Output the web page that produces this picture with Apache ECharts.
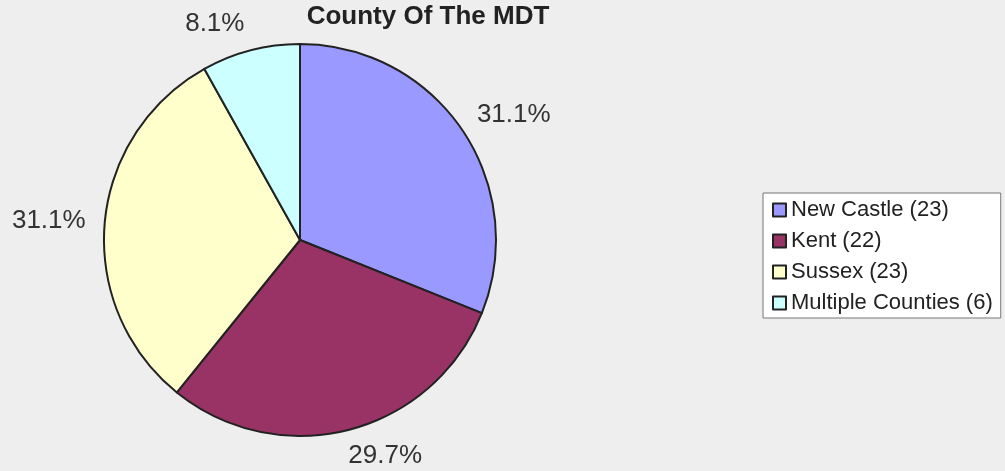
<!DOCTYPE html>
<html>
<head>
    <meta charset="utf-8">
    <script src="https://cdn.jsdelivr.net/npm/echarts@6/dist/echarts.min.js"></script>
    <style>
        body { margin: 0; background: #eeeeee; }
    </style>
</head>
<body>
    <div id="main" style="width: 1005px;height:471px"></div>
    <script type="text/javascript">
        var counties = ['New Castle', 'Kent', 'Sussex', 'Multiple Counties'];
        var counts = [23, 22, 23, 6];
        var colors = ['#9999ff', '#993366', '#ffffcc', '#ccffff'];

        var total = counts.reduce(function (a, b) { return a + b; }, 0);
        var pieData = [];
        for (var i = 0; i < counties.length; i++) {
            pieData.push({
                name: counties[i] + ' (' + counts[i] + ')',
                value: counts[i],
                itemStyle: { color: colors[i] }
            });
        }

        var myChart = echarts.init(document.getElementById('main'));
        var option = {
            backgroundColor: '#eeeeee',
            animation: false,
            textStyle: { fontFamily: 'Liberation Sans' },
            title: {
                text: 'County Of The MDT',
                left: 428,
                top: 4,
                textAlign: 'center',
                padding: 0,
                textStyle: { fontSize: 26, fontWeight: 'bold', color: '#222', fontFamily: 'Liberation Sans' }
            },
            legend: {
                orient: 'vertical',
                left: 763,
                top: 193,
                padding: [6, 8, 4, 9],
                itemGap: 9,
                itemWidth: 13,
                itemHeight: 13,
                icon: 'rect',
                borderColor: '#777',
                borderWidth: 1,
                backgroundColor: '#ffffff',
                itemStyle: { borderColor: '#222', borderWidth: 2 },
                textStyle: { fontSize: 22, lineHeight: 22, color: '#222' },
                data: pieData.map(function (d) { return d.name; })
            },
            series: [{
                type: 'pie',
                center: [300, 240],
                radius: 196,
                startAngle: 90,
                clockwise: true,
                avoidLabelOverlap: false,
                data: pieData,
                itemStyle: { borderColor: '#222', borderWidth: 2 },
                emphasis: { disabled: true },
                label: {
                    show: true,
                    position: 'outside',
                    fontSize: 26,
                    color: '#333',
                    distanceToLabelLine: 29,
                    formatter: function (p) {
                        return (p.value / total * 100).toFixed(1) + '%';
                    }
                },
                labelLayout: { align: 'center', verticalAlign: 'middle' },
                labelLine: { show: false, length: 27, length2: 0 }
            }]
        };
        myChart.setOption(option);
    </script>
</body>
</html>
